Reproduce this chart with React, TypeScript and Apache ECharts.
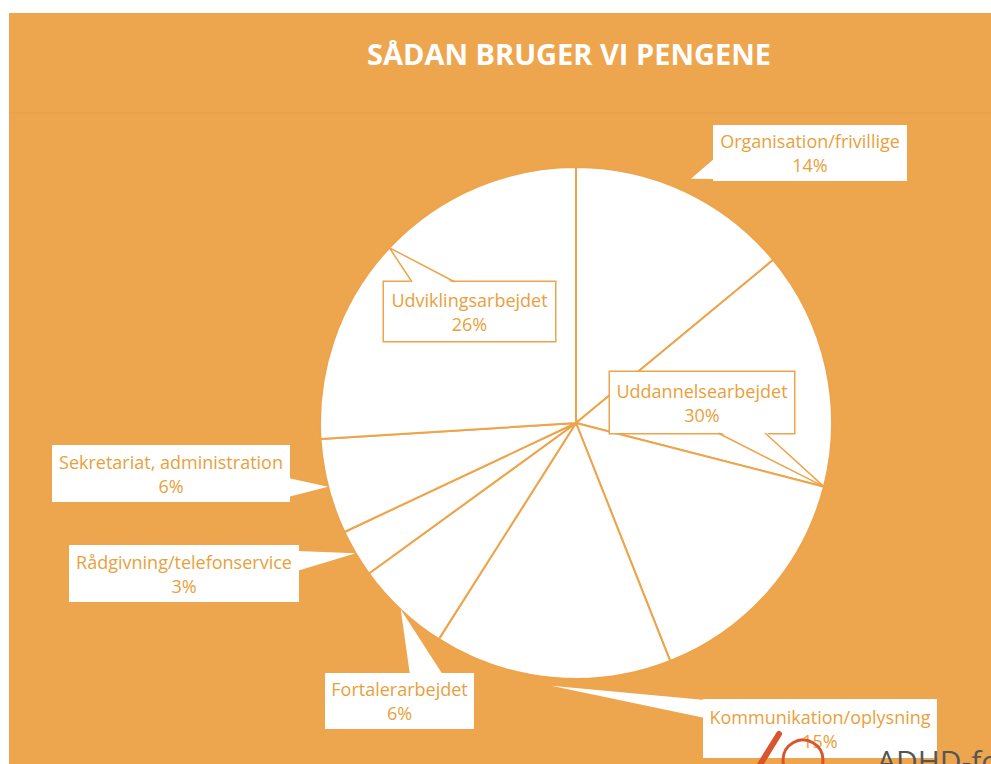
import React, { useEffect, useRef } from "react";
import * as echarts from "echarts";

// ---- data ----
const categories = [
  "Organisation/frivillige",
  "Uddannelsearbejdet",
  "Kommunikation/oplysning",
  "Fortalerarbejdet",
  "Rådgivning/telefonservice",
  "Sekretariat, administration",
  "Udviklingsarbejdet",
];
const shares = [14, 30, 15, 6, 3, 6, 26];
// the reference draws "Uddannelsearbejdet" as two pieces with a divider line
const drawnPieces = [1, 2, 1, 1, 1, 1, 1];
const titleText = "SÅDAN BRUGER VI PENGENE";

// ---- layout / style ----
const ORANGE = "#EDA64D";
const LINE = "#EDA44A";
const TEXT = "#E99F3C";
const CENTER: [number, number] = [576, 423];
const RADIUS = 256;

// label boxes: [left, top, width, height]
const labelBoxes = [
  [713, 125, 194, 56],
  [610, 372, 184, 61],
  [703, 699, 234, 59],
  [325, 673, 149, 56],
  [69, 545, 230, 57],
  [52, 445, 238, 57],
  [384, 282, 171, 59],
];
const outlined = [false, true, false, false, false, false, true];
// pointer base points relative to box top-left
const pointerBase = [
  [[0, 33], [0, 56]],
  [[108, 61], [155, 61]],
  [[0, 1], [0, 19]],
  [[85, 0], [118, 0]],
  [[230, 6], [230, 26]],
  [[238, 33], [238, 52]],
  [[28, 0], [71, 0]],
];
const tipOffset = [14, 0, 8, 0, 0, 0, 0];

export default function App() {
  const ref = useRef<HTMLDivElement>(null);

  useEffect(() => {
    if (!ref.current) return;
    const chart = echarts.init(ref.current, null, { renderer: "svg" });

    const pieData: any[] = [];
    categories.forEach((name, i) => {
      const n = drawnPieces[i];
      const b = labelBoxes[i];
      for (let k = 0; k < n; k++) {
        pieData.push({
          name,
          value: shares[i] / n,
          pct: shares[i],
          cat: i,
          label: {
            show: k === 0,
            width: b[2] - 10,
            padding: [(b[3] - 48) / 2, 5],
            borderColor: outlined[i] ? LINE : "transparent",
            borderWidth: outlined[i] ? 1.5 : 0,
          },
        });
      }
    });

    const total = shares.reduce((a, v) => a + v, 0);
    const pointers: any[] = [];
    let cum = 0;
    shares.forEach((v, i) => {
      const mid = cum + v / 2;
      cum += v;
      const th = (mid / total) * Math.PI * 2;
      const r = RADIUS + tipOffset[i];
      const tip = [CENTER[0] + r * Math.sin(th), CENTER[1] - r * Math.cos(th)];
      const b = labelBoxes[i];
      const base = pointerBase[i].map(([dx, dy]) => {
        let x = b[0] + dx;
        let y = b[1] + dy;
        if (dx === 0) x += 2;
        else if (dx === b[2]) x -= 2;
        if (dy === 0) y += 2;
        else if (dy === b[3]) y -= 2;
        return [x, y];
      });
      pointers.push({
        type: "polygon",
        z: 10,
        silent: true,
        shape: { points: [base[0], tip, base[1]] },
        style: { fill: "#fff", stroke: null },
      });
      if (outlined[i]) {
        const e = pointerBase[i].map(([dx, dy]) => [b[0] + dx, b[1] + dy]);
        pointers.push({
          type: "polyline",
          z: 11,
          silent: true,
          shape: { points: [e[0], tip, e[1]] },
          style: { stroke: LINE, lineWidth: 1.5, fill: null },
        });
      }
    });

    const option: any = {
      animation: false,
      backgroundColor: "#fff",
      title: {
        text: titleText,
        left: 569,
        top: 39,
        textAlign: "center",
        padding: 0,
        textStyle: {
          color: "#fff",
          fontSize: 29,
          fontWeight: "bold",
          fontFamily: "Open Sans",
        },
      },
      graphic: [
        {
          type: "rect",
          z: -10,
          silent: true,
          shape: { x: 9, y: 13, width: 991, height: 764 },
          style: { fill: ORANGE },
        },
        {
          type: "line",
          z: -9,
          silent: true,
          shape: { x1: 9, y1: 113, x2: 991, y2: 113 },
          style: { stroke: "rgba(225,105,85,0.1)", lineWidth: 2 },
        },
        ...pointers,
        {
          type: "line",
          z: 12,
          silent: true,
          shape: { x1: 758, y1: 768, x2: 779, y2: 734 },
          style: { stroke: "#D9552E", lineWidth: 6, lineCap: "round" },
        },
        {
          type: "circle",
          z: 12,
          silent: true,
          shape: { cx: 803, cy: 760, r: 20 },
          style: { stroke: "#D9552E", lineWidth: 3, fill: null },
        },
        {
          type: "text",
          z: 12,
          x: 877,
          y: 745,
          style: {
            text: "ADHD-foreningen",
            fill: "#555555",
            fontSize: 30,
            fontFamily: "Open Sans",
            textAlign: "left",
            textVerticalAlign: "top",
          },
        },
      ],
      series: [
        {
          type: "pie",
          z: 5,
          center: CENTER,
          radius: RADIUS,
          startAngle: 90,
          clockwise: true,
          avoidLabelOverlap: false,
          silent: true,
          emphasis: { disabled: true },
          itemStyle: { color: "#fff", borderColor: LINE, borderWidth: 2 },
          label: {
            show: true,
            position: "outside",
            formatter: (p: any) => `${p.name}\n${p.data.pct}%`,
            color: TEXT,
            fontFamily: "Open Sans",
            fontSize: 18,
            lineHeight: 24,
            align: "center",
            backgroundColor: "#fff",
          },
          labelLine: { show: false },
          labelLayout: (params: any) => {
            const d = pieData[params.dataIndex];
            const b = labelBoxes[d.cat];
            return {
              x: b[0] + b[2] / 2,
              y: b[1] + b[3] / 2,
              align: "center",
              verticalAlign: "middle",
            };
          },
          data: pieData,
        },
      ],
    };

    chart.setOption(option);
    return () => chart.dispose();
  }, []);

  return (
    <div
      ref={ref}
      style={{ position: "absolute", left: 0, top: 0, width: 991, height: 764 }}
    />
  );
}
